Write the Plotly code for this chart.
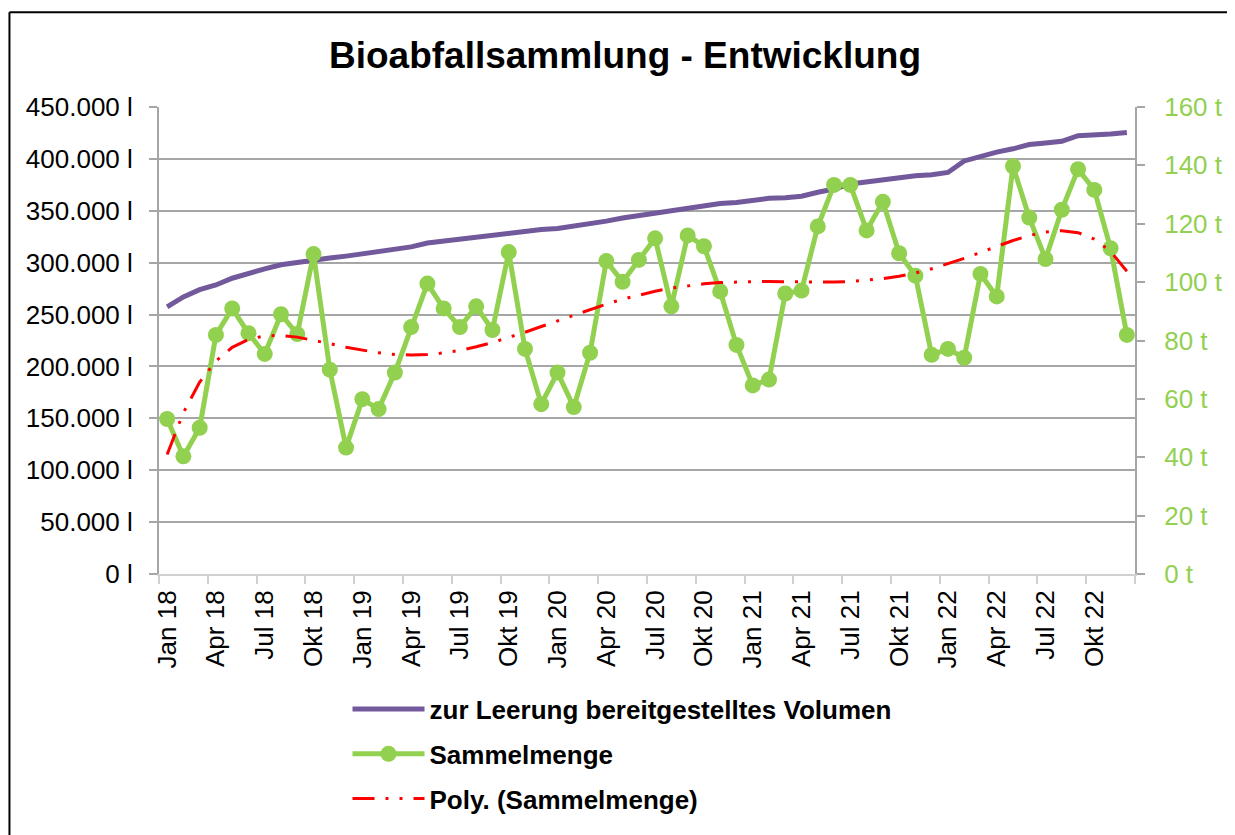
import numpy as np
import plotly.graph_objects as go

# monthly values Jan 2018 - Dec 2022
months = ["Jan", "Feb", "Mär", "Apr", "Mai", "Jun", "Jul", "Aug", "Sep", "Okt", "Nov", "Dez"]
years = ["18", "19", "20", "21", "22"]
labels = [m + " " + y for y in years for m in months]

volumen = [
    257500, 267000, 274000, 278500, 285000, 290000, 294000, 298000, 300500, 302800,
    304400, 306300, 308500, 310800, 312000, 315200, 319000, 320900, 322800, 324200,
    327200, 329100, 330400, 332000, 333000, 335200, 336800, 340000, 343100, 345600,
    348200, 350400, 352900, 355500, 357000, 358000, 360200, 362000, 362500, 364000,
    367800, 371000, 375800, 378000, 380500, 382100, 383700, 384700, 386900, 398000,
    402700, 406500, 409700, 413800, 415400, 417000, 422400, 423000, 424000, 425500,
]

sammelmenge = [
    53.1, 40.3, 50.1, 81.9, 91.0, 82.5, 75.4, 89.0, 82.2, 109.6,
    70.0, 43.3, 59.9, 56.5, 69.0, 84.6, 99.5, 91.0, 84.6, 91.7,
    83.6, 110.3, 77.1, 58.2, 69.0, 57.2, 75.8, 107.2, 100.1, 107.6,
    115.0, 91.7, 116.0, 112.3, 96.8, 78.5, 64.6, 66.6, 96.1, 97.1,
    119.1, 133.3, 133.3, 117.7, 127.5, 109.9, 102.2, 75.1, 77.1, 74.1,
    102.8, 95.1, 139.7, 122.1, 107.9, 124.8, 138.7, 131.6, 111.6, 81.9,
]

x = np.arange(len(labels))
# polynomial trend (6th order, like the spreadsheet trendline)
coef = np.polyfit(x + 1, sammelmenge, 6)
trend = np.polyval(coef, x + 1)

font = "Arial, Liberation Sans, sans-serif"
purple = "#72599B"
green = "#92D050"

fig = go.Figure()
fig.add_trace(go.Scatter(x=x, y=volumen, mode="lines", name="zur Leerung bereitgestelltes Volumen",
                         line=dict(color=purple, width=5), yaxis="y", legendgroup="a"))
fig.add_trace(go.Scatter(x=x, y=sammelmenge, mode="lines+markers", name="Sammelmenge",
                         line=dict(color=green, width=5), marker=dict(color=green, size=16),
                         yaxis="y2", legendgroup="b"))
fig.add_trace(go.Scatter(x=x, y=trend, mode="lines", name="Poly. (Sammelmenge)",
                         line=dict(color="#FF0000", width=3, dash="22px,11px,3px,11px,3px,11px"),
                         yaxis="y2", legendgroup="c"))

W, H = 1227, 827
fig.update_layout(
    width=W, height=H,
    margin=dict(l=151, r=97, t=99, b=255),
    paper_bgcolor="white", plot_bgcolor="white",
    separators=",.",
    font=dict(family=font, size=26, color="black"),
    title=dict(text="<b>Bioabfallsammlung - Entwicklung</b>", font=dict(size=37),
               x=617 / W, xref="container", xanchor="center",
               y=1 - 47 / H, yref="container", yanchor="middle"),
    xaxis=dict(range=[-0.5, 59.5], tickmode="array", tickvals=list(x[::3]),
               ticktext=labels[::3], tickangle=-90, ticks="", showgrid=False,
               showline=True, linecolor="#D0D0D0", linewidth=2,
               minor=dict(tickmode="array", tickvals=[v - 0.5 for v in range(0, 61, 3)],
                          ticks="outside", ticklen=8, tickcolor="#D0D0D0", tickwidth=2,
                          showgrid=False),
               ticklabelstandoff=4, zeroline=False),
    yaxis=dict(range=[0, 450000], dtick=50000, tickformat=",d", ticksuffix=" l",
               showgrid=True, gridcolor="#A6A6A6", gridwidth=1.5,
               showline=True, linecolor="#A6A6A6", linewidth=2,
               ticks="outside", ticklen=8, tickcolor="#A6A6A6", tickwidth=2,
               ticklabelstandoff=11, zeroline=False),
    yaxis2=dict(range=[0, 160], dtick=20, ticksuffix=" t", overlaying="y", side="right",
                showgrid=False, showline=True, linecolor="#A6A6A6", linewidth=2,
                ticks="outside", ticklen=8, tickcolor="#A6A6A6", tickwidth=2,
                tickfont=dict(color=green), ticklabelstandoff=14, zeroline=False),
    legend=dict(x=(344 - 151) / 979 - 0.004, xanchor="left", y=-0.239, yanchor="top",
                orientation="v", font=dict(size=26, color="black", weight="bold"),
                itemwidth=72, tracegroupgap=8, bgcolor="rgba(0,0,0,0)"),
    showlegend=True,
)

# chart frame (left and top edge)
fx = (1 - 151) / 979
fy = (572 - 3) / 473
fig.add_shape(type="line", xref="paper", yref="paper", x0=fx, y0=fy, x1=fx, y1=-0.7,
              line=dict(color="black", width=2))
fig.add_shape(type="line", xref="paper", yref="paper", x0=fx, y0=fy, x1=1.2, y1=fy,
              line=dict(color="black", width=2))

fig.write_html("out.html")
